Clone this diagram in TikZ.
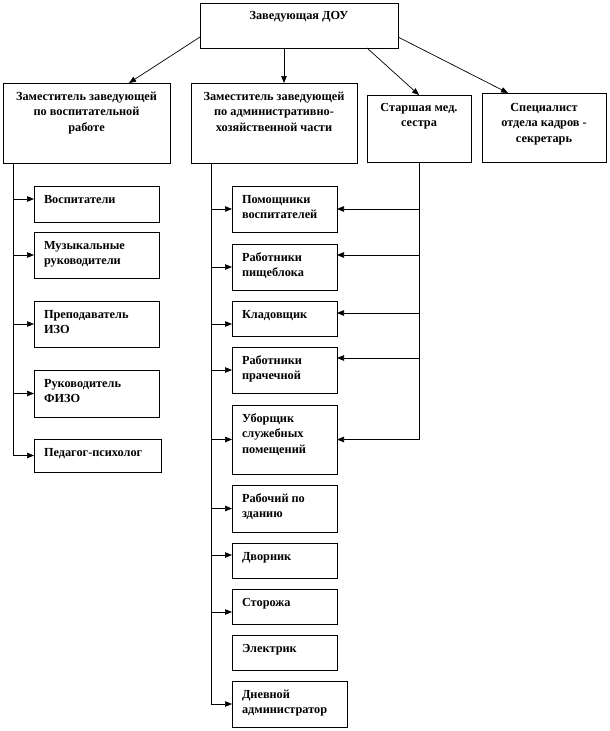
\documentclass[tikz,border=0pt]{standalone}
\usepackage{fontspec}
\setmainfont{Liberation Serif}
\usetikzlibrary{arrows.meta,calc}
\tikzset{
  bx/.style={draw=black,line width=0.8pt,inner sep=0pt,outer sep=0pt,fill=white},
  conn/.style={draw=black,line width=0.7pt},
  arr/.style={conn,-{Triangle[length=7pt,width=5.5pt]}},
}
\newcommand\boxfont{\fontsize{12.3}{15.5}\selectfont\bfseries}
% name x y w h text : left aligned
\newcommand\bxl[6]{%
  \node[bx,minimum width=#4pt,minimum height=#5pt,anchor=north west] (#1) at (#2,#3)
  {\parbox[c][#5pt][t]{#4pt}{\boxfont\raggedright\leftskip=10pt\baselineskip=15.5pt\rule{0pt}{17pt}#6\par}};}
% name x y w h firstline text : centred
\newcommand\bxc[7]{%
  \node[bx,minimum width=#4pt,minimum height=#5pt,anchor=north west] (#1) at (#2,#3)
  {\parbox[c][#5pt][t]{#4pt}{\boxfont\centering\baselineskip=15.5pt\rule{0pt}{#6pt}#7\par}};}
\begin{document}
\begin{tikzpicture}[x=1pt,y=-1pt]
\useasboundingbox[fill=white] (0,0) rectangle (610,731);
% top level
\bxc{head}{200}{3}{198}{45}{16}{Заведующая ДОУ}
\bxc{dep1}{3}{83}{167}{80}{17}{Заместитель заведующей\\по воспитательной\\работе}
\bxc{dep2}{191}{83}{166}{80}{17}{Заместитель заведующей\\по административно-\\хозяйственной части}
\bxc{med}{367}{95}{104}{67}{16}{Старшая мед.\\сестра}
\bxc{hr}{482}{93}{124}{69}{18}{Специалист\\отдела кадров -\\секретарь}
% left column
\bxl{vos}{34}{186}{125}{36}{Воспитатели}
\bxl{mus}{34}{232}{125}{46}{Музыкальные\\руководители}
\bxl{izo}{34}{301}{125}{46}{Преподаватель\\ИЗО}
\bxl{fizo}{34}{370}{125}{47}{Руководитель\\ФИЗО}
\bxl{psy}{34}{439}{127}{33}{Педагог-психолог}
% middle column
\bxl{pom}{232}{186}{105}{46}{Помощники\\воспитателей}
\bxl{pish}{232}{244}{105}{46}{Работники\\пищеблока}
\bxl{klad}{232}{301}{105}{35}{Кладовщик}
\bxl{prach}{232}{347}{105}{46}{Работники\\прачечной}
\bxl{ubor}{232}{405}{105}{69}{Уборщик\\служебных\\помещений}
\bxl{zd}{232}{485}{105}{47}{Рабочий по\\зданию}
\bxl{dvor}{232}{543}{105}{35}{Дворник}
\bxl{stor}{232}{589}{105}{35}{Сторожа}
\bxl{el}{232}{635}{105}{35}{Электрик}
\bxl{adm}{232}{681}{115}{46}{Дневной\\администратор}
% trunk coordinates
\coordinate (L) at (13,0);
\coordinate (M) at (211,0);
\coordinate (R) at (419,0);
\coordinate (hd) at ($(head.south)+(-15,0)$);
% arrows from the head
\draw[arr] ($(head.north west)+(0,34)$) -- ($(dep1.north west)+(126,0)$);
\draw[arr] (hd) -- (hd |- dep2.north);
\draw[arr] ($(head.south west)+(167,0)$) -- (med.north);
\draw[arr] ($(head.north east)+(0,34)$) -- ($(hr.north west)+(26,0)$);
% left trunk
\draw[arr] (dep1.south -| L) |- (psy.west);
\draw[arr] (L |- 0,199) -- (vos.west |- 0,199);
\draw[arr] (L |- mus.west) -- (mus.west);
\draw[arr] (L |- izo.west) -- (izo.west);
\draw[arr] (L |- fizo.west) -- (fizo.west);
% middle trunk
\draw[arr] (dep2.south -| M) |- (adm.west);
\draw[arr] (M |- pom.west) -- (pom.west);
\draw[arr] (M |- pish.west) -- (pish.west);
\draw[arr] (M |- 0,324) -- (klad.west |- 0,324);
\draw[arr] (M |- prach.west) -- (prach.west);
\draw[arr] (M |- ubor.west) -- (ubor.west);
\draw[arr] (M |- zd.west) -- (zd.west);
\draw[arr] (M |- 0,555) -- (dvor.west |- 0,555);
\draw[arr] (M |- 0,612) -- (stor.west |- 0,612);
% right trunk (from the head nurse)
\draw[arr] (med.south -| R) |- (ubor.east);
\draw[arr] (R |- pom.east) -- (pom.east);
\draw[arr] (R |- 0,255) -- (pish.east |- 0,255);
\draw[arr] (R |- 0,313) -- (klad.east |- 0,313);
\draw[arr] (R |- 0,358) -- (prach.east |- 0,358);
\end{tikzpicture}
\end{document}
